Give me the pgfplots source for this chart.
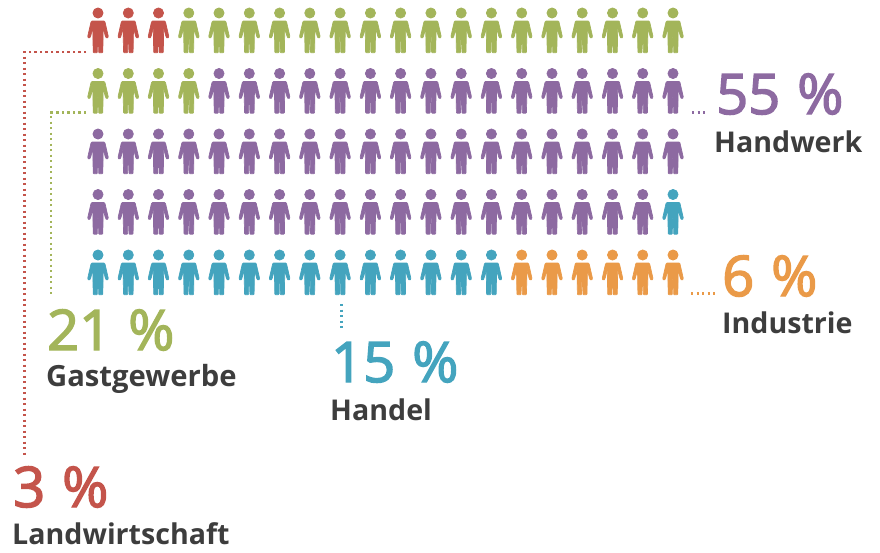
\documentclass[border=0pt]{standalone}
\usepackage{pgfplots}
\pgfplotsset{compat=1.18}
\usepackage{fontspec}
\setmainfont{Open Sans}
\newfontfamily\numfont[FakeBold=2.6]{Open Sans}
\definecolor{cred}{HTML}{C4544B}
\definecolor{cgreen}{HTML}{A3B55A}
\definecolor{cpurple}{HTML}{8D6AA1}
\definecolor{cteal}{HTML}{44A4BE}
\definecolor{corange}{HTML}{EA9A48}
\definecolor{ctext}{HTML}{3D3D3D}
% person pictogram, 1 unit = 1 px of the reference
\pgfdeclareplotmark{person}{%
  \pgfpathcircle{\pgfqpoint{0pt}{20pt}}{5.1pt}%
  \pgfpathmoveto{\pgfqpoint{0pt}{12pt}}%
  \pgfpathlineto{\pgfqpoint{6pt}{12pt}}%
  \pgfpathlineto{\pgfqpoint{7pt}{11pt}}%
  \pgfpathlineto{\pgfqpoint{10.2pt}{-3pt}}%
  \pgfpathlineto{\pgfqpoint{9.8pt}{-4.8pt}}%
  \pgfpathlineto{\pgfqpoint{8.2pt}{-4.8pt}}%
  \pgfpathlineto{\pgfqpoint{7.3pt}{-3pt}}%
  \pgfpathlineto{\pgfqpoint{5.2pt}{5pt}}%
  \pgfpathlineto{\pgfqpoint{4.8pt}{-19pt}}%
  \pgfpathlineto{\pgfqpoint{4pt}{-19.7pt}}%
  \pgfpathlineto{\pgfqpoint{1.3pt}{-19.7pt}}%
  \pgfpathlineto{\pgfqpoint{0.7pt}{-19pt}}%
  \pgfpathlineto{\pgfqpoint{0.4pt}{-4pt}}%
  \pgfpathlineto{\pgfqpoint{-0.4pt}{-4pt}}%
  \pgfpathlineto{\pgfqpoint{-0.7pt}{-19pt}}%
  \pgfpathlineto{\pgfqpoint{-1.3pt}{-19.7pt}}%
  \pgfpathlineto{\pgfqpoint{-4pt}{-19.7pt}}%
  \pgfpathlineto{\pgfqpoint{-4.8pt}{-19pt}}%
  \pgfpathlineto{\pgfqpoint{-5.2pt}{5pt}}%
  \pgfpathlineto{\pgfqpoint{-7.3pt}{-3pt}}%
  \pgfpathlineto{\pgfqpoint{-8.2pt}{-4.8pt}}%
  \pgfpathlineto{\pgfqpoint{-9.8pt}{-4.8pt}}%
  \pgfpathlineto{\pgfqpoint{-10.2pt}{-3pt}}%
  \pgfpathlineto{\pgfqpoint{-7pt}{11pt}}%
  \pgfpathlineto{\pgfqpoint{-6pt}{12pt}}%
  \pgfpathclose
  \pgfusepathqfillstroke
}
\tikzset{
  lead/.style={line width=2.4pt, dash pattern=on 2.4pt off 3.1pt, line cap=butt},
  num/.style={anchor=base west, inner sep=0pt, font=\fontsize{56}{56}\numfont},
  lab/.style={anchor=base west, inner sep=0pt, text=ctext, font=\fontsize{28.6}{28.6}\selectfont\bfseries},
}
\begin{document}
\begin{tikzpicture}
\useasboundingbox (0,0) rectangle (880pt,552pt);
\begin{axis}[
  scale only axis, width=880pt, height=552pt,
  xmin=0, xmax=880, ymin=0, ymax=552, y dir=reverse,
  hide axis, clip=false,
]
\addplot[only marks, mark=person, color=cred, mark options={line width=0.7pt, line join=round}] coordinates {
(98,33)(128.3,33)(158.5,33)};
\addplot[only marks, mark=person, color=cgreen, mark options={line width=0.7pt, line join=round}] coordinates {
(188.8,33)(219,33)(249.3,33)(279.6,33)(309.8,33)(340.1,33)(370.4,33)(400.6,33)(430.9,33)(461.2,33)(491.4,33)(521.7,33)(552,33)(582.2,33)(612.5,33)(642.7,33)(673,33)
(98,93.5)(128.3,93.5)(158.5,93.5)(188.8,93.5)};
\addplot[only marks, mark=person, color=cpurple, mark options={line width=0.7pt, line join=round}] coordinates {
(219,93.5)(249.3,93.5)(279.6,93.5)(309.8,93.5)(340.1,93.5)(370.4,93.5)(400.6,93.5)(430.9,93.5)(461.2,93.5)(491.4,93.5)(521.7,93.5)(552,93.5)(582.2,93.5)(612.5,93.5)(642.7,93.5)(673,93.5)
(98,154)(128.3,154)(158.5,154)(188.8,154)(219,154)(249.3,154)(279.6,154)(309.8,154)(340.1,154)(370.4,154)(400.6,154)(430.9,154)(461.2,154)(491.4,154)(521.7,154)(552,154)(582.2,154)(612.5,154)(642.7,154)(673,154)
(98,214.5)(128.3,214.5)(158.5,214.5)(188.8,214.5)(219,214.5)(249.3,214.5)(279.6,214.5)(309.8,214.5)(340.1,214.5)(370.4,214.5)(400.6,214.5)(430.9,214.5)(461.2,214.5)(491.4,214.5)(521.7,214.5)(552,214.5)(582.2,214.5)(612.5,214.5)(642.7,214.5)};
\addplot[only marks, mark=person, color=cteal, mark options={line width=0.7pt, line join=round}] coordinates {
(673,214.5)
(98,275)(128.3,275)(158.5,275)(188.8,275)(219,275)(249.3,275)(279.6,275)(309.8,275)(340.1,275)(370.4,275)(400.6,275)(430.9,275)(461.2,275)(491.4,275)};
\addplot[only marks, mark=person, color=corange, mark options={line width=0.7pt, line join=round}] coordinates {
(521.7,275)(552,275)(582.2,275)(612.5,275)(642.7,275)(673,275)};
% leader lines
\addplot[cred, lead, no marks] coordinates {(86,52)(24.5,52)(24.5,456)};
\addplot[cgreen, lead, no marks] coordinates {(86,112.5)(51,112.5)(51,297)};
\addplot[cpurple, lead, no marks] coordinates {(692,112.5)(708,112.5)};
\addplot[cteal, lead, no marks] coordinates {(341.5,304)(341.5,330)};
\addplot[corange, lead, no marks] coordinates {(691,293.5)(716,293.5)};
% labels
\node[num, text=cpurple] at (axis cs:716,114) {55\hspace{2.5pt} \%};
\node[lab] at (axis cs:714,152) {Handwerk};
\node[num, text=corange] at (axis cs:722,296) {6\hspace{2.5pt} \%};
\node[lab] at (axis cs:722,333) {Industrie};
\node[num, text=cgreen] at (axis cs:47,350) {21\hspace{2.5pt} \%};
\node[lab, font=\fontsize{29.2}{29.2}\selectfont\bfseries] at (axis cs:46,386) {Gastgewerbe};
\node[num, text=cteal] at (axis cs:331,382) {15\hspace{2.5pt} \%};
\node[lab] at (axis cs:330,420) {Handel};
\node[num, text=cred] at (axis cs:13,507) {3\hspace{2.5pt} \%};
\node[lab] at (axis cs:12,544) {Landwirtschaft};
\end{axis}
\end{tikzpicture}
\end{document}
